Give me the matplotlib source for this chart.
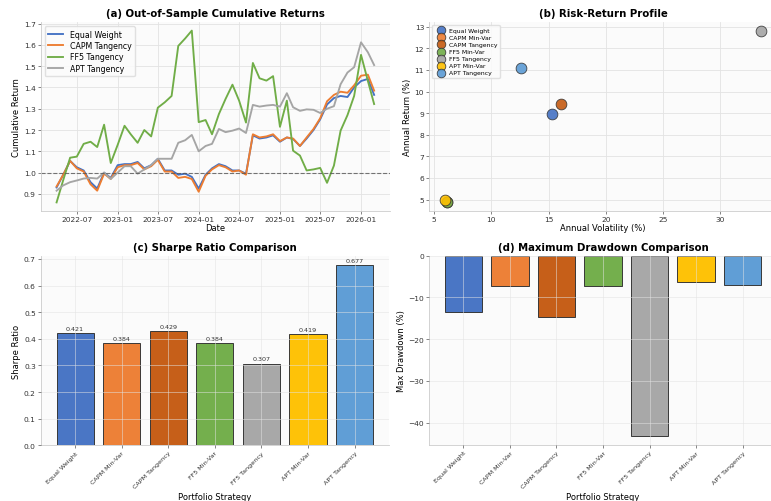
import numpy as np
import pandas as pd
import matplotlib
matplotlib.use('Agg')
import matplotlib.pyplot as plt
import matplotlib.dates as mdates

# ---- data ----
dates = pd.date_range('2022-03-31', periods=48, freq='ME')

equal_weight = [0.93, 0.99, 1.055, 1.025, 1.01, 0.955, 0.925, 1.0, 0.975, 1.035,
                1.04, 1.04, 1.05, 1.02, 1.035, 1.065, 1.01, 1.01, 0.99, 0.995,
                0.98, 0.925, 0.99, 1.02, 1.04, 1.03, 1.01, 1.01, 0.995, 1.175,
                1.16, 1.165, 1.175, 1.145, 1.165, 1.158, 1.125, 1.16, 1.2, 1.25,
                1.32, 1.35, 1.36, 1.355, 1.4, 1.43, 1.44, 1.365]
capm_tangency = [0.935, 0.99, 1.055, 1.02, 1.005, 0.945, 0.915, 0.995, 0.97, 1.025,
                 1.035, 1.035, 1.045, 1.015, 1.03, 1.06, 1.005, 1.005, 0.975, 0.98,
                 0.97, 0.91, 0.985, 1.015, 1.035, 1.025, 1.005, 1.01, 0.99, 1.18,
                 1.165, 1.17, 1.18, 1.148, 1.165, 1.16, 1.125, 1.165, 1.205, 1.255,
                 1.335, 1.365, 1.38, 1.375, 1.41, 1.455, 1.46, 1.385]
ff5_tangency = [0.86, 0.965, 1.07, 1.075, 1.135, 1.145, 1.12, 1.225, 1.045, 1.13,
                1.22, 1.18, 1.14, 1.2, 1.17, 1.305, 1.33, 1.36, 1.595, 1.63,
                1.667, 1.237, 1.247, 1.18, 1.275, 1.346, 1.413, 1.338, 1.235, 1.515,
                1.443, 1.432, 1.453, 1.215, 1.338, 1.103, 1.08, 1.01, 1.015, 1.022,
                0.952, 1.033, 1.197, 1.27, 1.36, 1.553, 1.43, 1.322]
apt_tangency = [0.915, 0.94, 0.955, 0.963, 0.972, 0.975, 0.972, 1.0, 0.97, 1.0,
                1.03, 1.03, 0.995, 1.015, 1.035, 1.065, 1.065, 1.065, 1.14, 1.152,
                1.177, 1.1, 1.125, 1.135, 1.205, 1.19, 1.197, 1.207, 1.186, 1.318,
                1.31, 1.315, 1.318, 1.31, 1.373, 1.307, 1.29, 1.297, 1.295, 1.28,
                1.3, 1.312, 1.415, 1.47, 1.495, 1.612, 1.565, 1.505]

strategies = ['Equal Weight', 'CAPM Min-Var', 'CAPM Tangency', 'FF5 Min-Var',
              'FF5 Tangency', 'APT Min-Var', 'APT Tangency']
annual_vol = [15.29, 6.15, 16.07, 6.15, 33.56, 5.95, 12.58]
annual_ret = [8.95, 4.87, 9.41, 4.87, 12.82, 5.0, 11.07]
sharpe = [0.421, 0.384, 0.429, 0.384, 0.307, 0.419, 0.677]
max_drawdown = [-13.6, -7.2, -14.7, -7.2, -43.2, -6.3, -7.0]

colors = ['#4472C4', '#ED7D31', '#C55A11', '#70AD47', '#A5A5A5', '#FFC000', '#5B9BD5']

plt.rcParams['font.family'] = 'DejaVu Sans'
plt.rcParams['axes.facecolor'] = '#fbfbfb'
plt.rcParams['axes.edgecolor'] = '#cccccc'
plt.rcParams['xtick.color'] = '#555555'
plt.rcParams['ytick.color'] = '#555555'
plt.rcParams['xtick.labelcolor'] = '#333333'
plt.rcParams['ytick.labelcolor'] = '#333333'

fig = plt.figure(figsize=(7.71, 5.02), dpi=100)
W, H = 771, 502

def place(l, t, r, b):
    return fig.add_axes([l / W, 1 - b / H, (r - l) / W, (b - t) / H])

ax_a = place(40.7, 23, 390, 212)
ax_b = place(429, 23, 777, 212)
ax_c = place(40.7, 257, 389, 446.3)
ax_d = place(429, 256.7, 777, 446)

title_kw = dict(fontsize=7.3, fontweight='bold', pad=4)
lab_fs = 6.0
tick_fs = 5.4

def style(ax, below=True):
    ax.grid(True, color='#e3e3e3', linewidth=0.6, alpha=1 if below else 0.6)
    ax.set_axisbelow(below)
    ax.tick_params(labelsize=tick_fs, length=2, width=0.5, pad=1.5)
    for s in ['top', 'right']:
        ax.spines[s].set_visible(False)
    for s in ['left', 'bottom']:
        ax.spines[s].set_linewidth(0.6)

# (a) cumulative returns
ax_a.plot(dates, equal_weight, color='#4472C4', lw=1.35, label='Equal Weight')
ax_a.plot(dates, capm_tangency, color='#ED7D31', lw=1.35, label='CAPM Tangency')
ax_a.plot(dates, ff5_tangency, color='#70AD47', lw=1.35, label='FF5 Tangency')
ax_a.plot(dates, apt_tangency, color='#A5A5A5', lw=1.35, label='APT Tangency')
ax_a.axhline(1.0, color='#555555', ls='--', lw=0.8, alpha=0.8)
ax_a.xaxis.set_major_locator(mdates.MonthLocator(bymonth=[1, 7]))
ax_a.xaxis.set_major_formatter(mdates.DateFormatter('%Y-%m'))
style(ax_a)
ax_a.set_title('(a) Out-of-Sample Cumulative Returns', **title_kw)
ax_a.set_xlabel('Date', fontsize=lab_fs, labelpad=1)
ax_a.set_ylabel('Cumulative Return', fontsize=lab_fs, labelpad=2)
ax_a.legend(loc='upper left', fontsize=5.7, framealpha=0.9, edgecolor='#dddddd',
            handlelength=1.9, borderpad=0.45, labelspacing=0.3)

# (b) risk-return scatter
for i, name in enumerate(strategies):
    ax_b.scatter(annual_vol[i], annual_ret[i], s=60, color=colors[i], edgecolor='#333333',
                 linewidth=0.6, alpha=0.9, label=name, zorder=3)
style(ax_b)
ax_b.set_title('(b) Risk-Return Profile', **title_kw)
ax_b.set_xlabel('Annual Volatility (%)', fontsize=lab_fs, labelpad=1)
ax_b.set_ylabel('Annual Return (%)', fontsize=lab_fs, labelpad=2)
ax_b.legend(loc='upper left', fontsize=4.4, framealpha=0.9, edgecolor='#dddddd',
            markerscale=0.8, borderpad=0.4, labelspacing=0.3, handletextpad=0.3)

# (c) Sharpe ratio
x = np.arange(len(strategies))
bars = ax_c.bar(x, sharpe, color=colors, edgecolor='#333333', linewidth=0.7, alpha=0.97)
for b, v in zip(bars, sharpe):
    ax_c.text(b.get_x() + b.get_width() / 2, v + 0.008, f'{v:.3f}', ha='center',
              va='bottom', fontsize=4.6, color='#333333')
style(ax_c, below=False)
ax_c.set_xticks(x)
ax_c.set_xticklabels(strategies, rotation=45, ha='right', fontsize=4.6, rotation_mode='anchor')
ax_c.set_title('(c) Sharpe Ratio Comparison', **title_kw)
ax_c.set_xlabel('Portfolio Strategy', fontsize=lab_fs, labelpad=2)
ax_c.set_ylabel('Sharpe Ratio', fontsize=lab_fs, labelpad=2)

# (d) max drawdown
ax_d.bar(x, max_drawdown, color=colors, edgecolor='#333333', linewidth=0.7, alpha=0.97)
style(ax_d, below=False)
ax_d.set_xticks(x)
ax_d.set_xticklabels(strategies, rotation=45, ha='right', fontsize=4.6, rotation_mode='anchor')
ax_d.set_title('(d) Maximum Drawdown Comparison', **title_kw)
ax_d.set_xlabel('Portfolio Strategy', fontsize=lab_fs, labelpad=2)
ax_d.set_ylabel('Max Drawdown (%)', fontsize=lab_fs, labelpad=2)

fig.savefig('out.png', dpi=100, facecolor='white')
